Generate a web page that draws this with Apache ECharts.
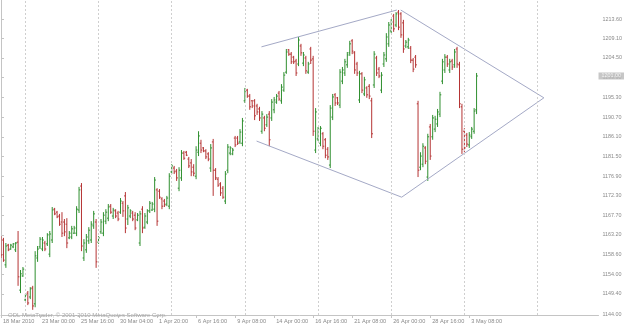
<!DOCTYPE html>
<html><head><meta charset="utf-8">
<script src="https://cdn.jsdelivr.net/npm/echarts@6/dist/echarts.min.js"></script>
<style>html,body{margin:0;padding:0;background:#fff}#c{width:625px;height:327px}</style>
</head><body><div id="c"></div>
<script>
// OHLC H4 bars (index 0 = 18 Mar 2010)
const opens = [1162.5,1162.0,1156.2,1160.8,1159.9,1160.4,1159.7,1161.5,1150.3,1153.6,1148.0,1149.6,1148.7,1150.8,1147.1,1157.8,1160.4,1159.9,1161.3,1161.1,1158.7,1162.0,1169.2,1168.5,1167.6,1166.2,1166.2,1165.7,1162.5,1162.7,1163.6,1163.6,1169.0,1174.6,1157.8,1159.7,1161.8,1162.0,1165.3,1166.2,1161.5,1163.9,1163.6,1166.4,1167.1,1169.9,1167.6,1168.8,1168.3,1168.5,1170.6,1172.3,1166.9,1167.6,1168.3,1167.8,1166.7,1161.3,1169.2,1165.0,1166.2,1168.8,1169.0,1169.2,1173.7,1173.4,1171.6,1171.1,1170.4,1169.9,1177.9,1178.8,1178.1,1174.1,1176.5,1182.3,1182.5,1180.9,1180.0,1179.0,1176.9,1182.5,1184.6,1183.5,1182.8,1182.1,1178.8,1184.9,1178.3,1176.2,1175.1,1174.1,1171.1,1178.3,1182.3,1182.1,1185.8,1185.8,1184.9,1184.6,1194.5,1197.0,1195.6,1194.5,1194.5,1193.3,1192.6,1187.4,1190.5,1188.9,1191.4,1190.5,1192.4,1194.2,1196.3,1194.5,1197.0,1201.2,1206.4,1205.4,1204.7,1203.8,1203.1,1207.3,1203.3,1204.5,1201.2,1206.6,1204.3,1183.0,1185.6,1184.6,1186.8,1185.4,1183.2,1179.5,1190.7,1195.9,1195.2,1193.5,1199.1,1201.0,1202.9,1205.7,1208.5,1205.7,1203.1,1194.7,1200.8,1196.1,1197.5,1197.9,1194.5,1198.2,1204.5,1201.9,1197.0,1203.1,1204.3,1207.8,1210.8,1214.3,1212.2,1215.2,1214.8,1212.7,1207.3,1207.1,1206.8,1204.0,1204.7,1193.8,1179.0,1179.7,1183.5,1176.7,1188.4,1186.1,1187.9,1189.1,1191.4,1199.1,1201.7,1204.7,1201.7,1203.8,1202.9,1206.6,1202.9,1193.1,1187.4,1186.5,1184.2,1186.1,1187.4,1192.4];
const highs = [1162.9,1162.5,1161.3,1161.1,1161.1,1161.3,1161.5,1164.1,1155.0,1155.7,1149.4,1150.1,1151.0,1151.3,1159.4,1160.6,1162.7,1162.7,1161.8,1163.6,1164.1,1169.7,1169.5,1168.8,1168.1,1168.5,1166.9,1167.1,1164.1,1165.3,1165.3,1169.9,1174.4,1175.3,1162.2,1163.4,1165.0,1166.4,1168.8,1166.9,1162.9,1166.9,1168.5,1169.2,1170.4,1170.4,1169.5,1169.2,1168.8,1171.8,1171.1,1173.2,1170.2,1169.2,1168.8,1168.5,1168.3,1168.8,1169.9,1168.3,1169.2,1171.1,1170.9,1176.7,1174.1,1173.9,1172.0,1171.6,1172.3,1177.6,1179.7,1179.3,1178.6,1179.0,1183.0,1182.8,1182.8,1181.4,1180.9,1179.7,1183.9,1187.4,1185.4,1183.7,1183.2,1182.5,1184.4,1185.6,1178.8,1176.7,1175.5,1174.6,1178.1,1184.4,1183.9,1183.5,1186.3,1186.3,1187.9,1190.5,1197.5,1197.3,1196.1,1194.7,1194.9,1193.8,1193.1,1192.1,1191.0,1191.4,1192.1,1194.9,1195.4,1196.1,1196.8,1198.4,1201.2,1206.6,1206.6,1205.9,1205.0,1204.3,1209.4,1207.8,1205.9,1205.0,1203.6,1207.1,1205.0,1192.8,1188.4,1188.6,1187.2,1185.8,1183.7,1193.5,1196.1,1196.3,1195.4,1201.9,1202.4,1204.3,1205.9,1208.5,1208.9,1206.1,1203.6,1201.5,1201.2,1200.1,1197.9,1198.4,1195.2,1206.1,1205.0,1202.4,1201.2,1205.9,1210.3,1212.9,1213.6,1214.8,1215.2,1215.7,1215.2,1213.4,1208.7,1209.2,1207.3,1204.5,1205.2,1194.5,1182.5,1184.6,1183.9,1186.8,1189.1,1191.2,1191.0,1192.6,1196.6,1204.3,1205.4,1205.2,1204.3,1204.3,1206.6,1207.1,1203.6,1193.8,1188.1,1187.0,1187.2,1188.4,1192.8,1201.0];
const lows = [1157.8,1156.9,1155.5,1159.4,1159.7,1160.1,1159.2,1151.3,1149.6,1153.4,1147.8,1146.8,1148.2,1145.7,1146.3,1156.9,1159.9,1159.4,1159.4,1160.6,1158.0,1161.3,1167.8,1167.1,1165.3,1162.7,1162.9,1160.1,1162.2,1162.2,1163.4,1162.9,1168.3,1159.4,1157.1,1159.0,1161.1,1161.3,1164.6,1155.5,1161.1,1163.4,1162.9,1165.7,1166.4,1168.1,1166.9,1167.1,1166.4,1168.1,1167.4,1163.6,1165.5,1167.1,1166.4,1164.3,1166.4,1160.6,1163.6,1164.6,1165.7,1168.3,1168.8,1168.5,1165.3,1171.6,1169.2,1169.7,1169.9,1169.2,1177.4,1177.4,1175.8,1173.4,1175.8,1180.7,1181.6,1178.8,1176.9,1176.9,1176.2,1181.6,1182.3,1182.5,1180.9,1180.4,1177.9,1172.3,1176.0,1174.4,1172.3,1171.6,1170.4,1177.6,1181.8,1181.8,1183.7,1184.2,1184.4,1183.9,1194.0,1195.2,1192.4,1192.8,1190.0,1191.2,1189.8,1186.8,1187.4,1188.4,1183.9,1189.8,1191.6,1193.8,1194.5,1193.8,1196.6,1200.8,1205.0,1203.1,1203.1,1200.3,1202.6,1205.0,1202.6,1200.8,1200.8,1203.1,1186.3,1182.3,1185.1,1183.9,1183.2,1181.1,1180.7,1178.8,1190.0,1193.3,1193.5,1192.8,1198.4,1200.3,1202.2,1205.0,1205.4,1200.8,1200.3,1194.0,1196.3,1195.6,1195.2,1194.9,1185.8,1197.5,1200.3,1199.8,1196.3,1202.4,1203.6,1207.1,1210.3,1210.6,1211.7,1211.0,1209.2,1205.7,1206.8,1206.6,1203.3,1201.2,1202.2,1176.7,1178.3,1179.0,1179.7,1175.8,1180.7,1185.4,1187.2,1188.4,1190.7,1198.4,1201.0,1202.4,1201.0,1201.7,1202.2,1202.2,1192.8,1182.1,1182.5,1183.7,1183.5,1185.6,1186.8,1191.4];
const closes = [1158.5,1157.3,1160.6,1159.7,1160.8,1161.1,1161.3,1153.4,1154.1,1155.2,1149.2,1147.3,1150.6,1146.6,1158.3,1159.9,1162.2,1162.0,1159.9,1163.2,1163.4,1169.0,1168.1,1167.4,1165.7,1163.6,1163.9,1161.3,1163.6,1164.6,1164.8,1169.2,1173.7,1160.6,1161.3,1162.7,1164.3,1165.7,1168.1,1156.9,1162.5,1166.2,1167.8,1168.5,1169.7,1168.5,1169.0,1167.6,1166.9,1171.1,1168.8,1164.8,1169.5,1168.8,1166.9,1164.8,1167.8,1168.1,1164.8,1167.6,1168.8,1170.6,1170.4,1176.0,1166.4,1172.0,1169.9,1170.2,1171.8,1176.9,1179.3,1177.9,1176.5,1178.3,1182.3,1181.1,1181.8,1179.3,1177.9,1177.6,1183.0,1186.3,1183.0,1182.8,1181.4,1180.9,1183.5,1178.3,1176.5,1174.8,1173.0,1172.0,1177.4,1183.7,1183.5,1183.0,1184.2,1184.6,1187.2,1189.8,1196.8,1195.6,1193.1,1193.3,1191.0,1191.9,1190.5,1191.4,1188.1,1190.7,1185.4,1194.2,1194.7,1195.6,1194.9,1197.7,1200.5,1205.9,1205.4,1203.6,1203.6,1201.0,1208.7,1205.7,1205.2,1201.5,1203.1,1204.0,1187.4,1191.9,1187.9,1188.1,1183.9,1181.8,1181.4,1192.8,1195.4,1194.0,1194.0,1201.2,1201.7,1203.6,1205.2,1207.8,1206.1,1201.7,1201.0,1200.8,1197.0,1199.4,1195.9,1195.6,1186.8,1205.4,1201.0,1200.3,1200.5,1205.2,1209.4,1212.2,1212.9,1211.3,1214.8,1211.7,1209.9,1206.6,1208.2,1208.7,1204.0,1201.9,1202.9,1178.3,1181.6,1183.9,1180.4,1186.1,1181.6,1190.5,1190.2,1191.9,1195.9,1203.6,1204.7,1203.1,1203.6,1202.4,1205.9,1203.1,1193.8,1183.2,1183.5,1184.4,1186.5,1187.9,1192.1,1200.3];

const timeLabels = ['18 Mar 2010','23 Mar 00:00','25 Mar 16:00','30 Mar 04:00','1 Apr 20:00','6 Apr 16:00','9 Apr 08:00','14 Apr 00:00','16 Apr 16:00','21 Apr 08:00','26 Apr 00:00','28 Apr 16:00','3 May 08:00'];
const timeLabelBars = [0,16,32,48,64,80,96,112,128,144,160,176,192];
const weekStarts = [10,40,70,100,130,160,190,220];
const priceLabels = [1144.00,1149.40,1154.00,1158.60,1163.20,1167.70,1172.30,1176.90,1181.50,1186.10,1190.70,1195.30,1199.90,1204.50,1209.10,1213.60];
const bidText = '1201.00';
// trend lines forming the diamond: [[bar, price],[bar, price]]
const trendLines = [
  [[106.8,1207.1],[162.3,1215.7]],
  [[163.9,1215.7],[222.6,1195.2]],
  [[222.6,1195.2],[164.3,1172.0]],
  [[164.3,1172.0],[104.8,1185.1]]
];

const yMin = 1144.49, yMax = 1218.04, xMax = 245;
const UP = '#2f8f2f', DOWN = '#b53434';
const bars = opens.map((o,i)=>[i,o,closes[i],lows[i],highs[i]]);

const chart = echarts.init(document.getElementById('c'), null, {renderer:'canvas'});
const fontFam = 'Liberation Sans, Arial, sans-serif';

function renderBar(params, api){
  const i = api.value(0), o = api.value(1), c = api.value(2), l = api.value(3), h = api.value(4);
  const pH = api.coord([i,h]), pL = api.coord([i,l]), pO = api.coord([i,o]), pC = api.coord([i,c]);
  const col = c >= o ? UP : DOWN;
  const st = {stroke: col, lineWidth: 1};
  return {type:'group', children:[
    {type:'line', shape:{x1:pH[0],y1:pH[1],x2:pL[0],y2:pL[1]}, style:st},
    {type:'line', shape:{x1:pO[0]-1.3,y1:pO[1],x2:pO[0],y2:pO[1]}, style:st},
    {type:'line', shape:{x1:pC[0],y1:pC[1],x2:pC[0]+1.3,y2:pC[1]}, style:st}
  ]};
}

const series = [
  {type:'line', data:[], silent:true,
   markLine:{silent:true, symbol:'none', label:{show:false}, animation:false,
     lineStyle:{type:[2,2], color:'#cfcfcf', width:1},
     data: weekStarts.map(v=>({xAxis:v}))}},
  {type:'custom', renderItem: renderBar, data: bars, animation:false, clip:true,
   encode:{x:0, y:[1,2,3,4]}}
];
trendLines.forEach(seg=>{
  series.push({type:'line', data: seg, symbol:'none', silent:true, animation:false,
    lineStyle:{color:'#a4a9c6', width:1}});
});
series.push({type:'scatter', data:[[xMax, closes[closes.length-1]]], symbolSize:0, clip:false, silent:true,
  label:{show:true, position:'right', distance:0, formatter: bidText, backgroundColor:'#b9b9b9',
    color:'#fff', fontSize:5.4, fontFamily:fontFam, padding:[1,3,1,3]}});

chart.setOption({
  animation:false,
  backgroundColor:'#fff',
  title:{text:'ODL MetaTrader, © 2001-2010 MetaQuotes Software Corp.', left:3, top:307,
    textStyle:{fontSize:6, fontWeight:'normal', color:'#a8a8a8', fontFamily:fontFam}},
  grid:{left:0, right:24, top:0, bottom:12},
  xAxis:{type:'value', min:0, max:xMax,
    axisLine:{show:true, lineStyle:{color:'#c4c4c4'}},
    axisTick:{show:true, length:3, customValues: timeLabelBars, lineStyle:{color:'#c4c4c4'}},
    axisLabel:{customValues: timeLabelBars, align:'left', margin:3, padding:[0,0,0,2],
      fontSize:5.6, color:'#8a8a8a', fontFamily:fontFam,
      formatter: v => timeLabels[timeLabelBars.indexOf(v)] || ''},
    splitLine:{show:false}},
  yAxis:{type:'value', position:'right', min:yMin, max:yMax, scale:true,
    axisLine:{show:true, lineStyle:{color:'#c4c4c4'}},
    axisTick:{show:true, length:3, customValues: priceLabels.map(v=>Math.max(v,yMin)), lineStyle:{color:'#c4c4c4'}},
    axisLabel:{customValues: priceLabels.map(v=>Math.max(v,yMin)), margin:4,
      fontSize:5.4, color:'#8a8a8a', fontFamily:fontFam,
      formatter: v => v <= yMin + 1e-6 ? priceLabels[0].toFixed(2) : v.toFixed(2)},
    splitLine:{show:false}},
  series
});
</script></body></html>
